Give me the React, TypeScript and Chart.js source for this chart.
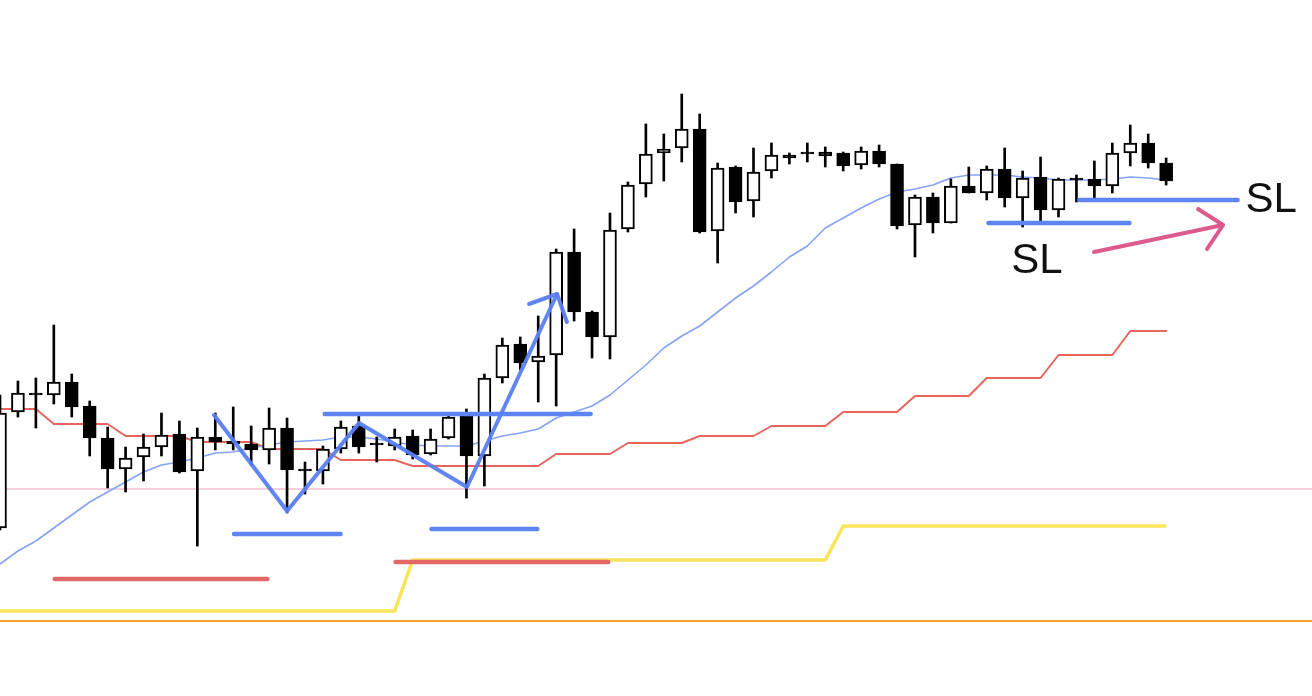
import React, { useEffect, useRef } from "react";
import { Chart, registerables } from "chart.js";

Chart.register(...registerables);

// Candles (price units), one per bar index
const opens = [144.72, 145.88, 146.07, 146.05, 146.18, 145.94, 145.62, 145.31, 145.43, 145.53,
  145.66, 145.29, 145.63, 145.59, 145.56, 145.50, 145.72, 145.31, 145.29, 145.51,
  145.74, 145.57, 145.54, 145.64, 145.46, 145.62, 145.84, 145.44, 146.22, 146.56,
  146.38, 146.45, 147.48, 146.88, 146.63, 147.71, 148.16, 148.47, 148.52, 148.71,
  147.69, 148.33, 147.99, 148.29, 148.45, 148.48, 148.48, 148.47, 148.35, 148.49,
  148.36, 147.75, 148.03, 147.77, 148.14, 148.07, 148.31, 148.02, 148.23, 147.90,
  148.22, 148.21, 148.14, 148.47, 148.57, 148.37];
const highs = [146.05, 146.19, 146.22, 146.75, 146.26, 145.99, 145.73, 145.53, 145.66, 145.87,
  145.79, 145.72, 145.87, 145.93, 145.74, 145.92, 145.82, 145.38, 145.54, 145.79,
  145.84, 145.63, 145.71, 145.70, 145.71, 145.84, 145.91, 146.26, 146.62, 146.63,
  146.84, 147.51, 147.71, 146.89, 147.87, 148.18, 148.76, 148.66, 149.06, 148.86,
  148.37, 148.34, 148.52, 148.57, 148.47, 148.57, 148.53, 148.48, 148.53, 148.55,
  148.36, 148.05, 148.07, 148.21, 148.33, 148.34, 148.52, 148.29, 148.43, 148.22,
  148.25, 148.39, 148.57, 148.75, 148.66, 148.42];
const lows = [144.70, 145.83, 145.72, 145.96, 145.83, 145.44, 145.12, 145.08, 145.19, 145.44,
  145.27, 144.54, 145.50, 145.50, 145.35, 145.36, 144.87, 145.06, 145.16, 145.47,
  145.47, 145.38, 145.50, 145.41, 145.45, 145.61, 145.02, 145.14, 146.17, 146.30,
  145.98, 145.94, 146.79, 146.42, 146.41, 147.68, 148.03, 148.19, 148.38, 147.67,
  147.37, 147.87, 147.83, 148.22, 148.36, 148.38, 148.33, 148.29, 148.31, 148.33,
  147.71, 147.43, 147.67, 147.77, 148.07, 148.00, 147.93, 147.73, 147.78, 147.83,
  147.98, 147.99, 148.07, 148.34, 148.32, 148.15];
const closes = [145.87, 146.07, 146.05, 146.18, 145.93, 145.62, 145.31, 145.42, 145.53, 145.65,
  145.28, 145.63, 145.58, 145.56, 145.50, 145.72, 145.30, 145.29, 145.51, 145.73,
  145.53, 145.55, 145.63, 145.45, 145.61, 145.83, 145.44, 146.22, 146.55, 146.37,
  146.44, 147.48, 146.88, 146.63, 147.70, 148.15, 148.46, 148.51, 148.71, 147.68,
  148.32, 147.98, 148.28, 148.45, 148.42, 148.46, 148.44, 148.34, 148.49, 148.36,
  147.74, 148.03, 147.77, 148.14, 148.07, 148.31, 148.02, 148.22, 147.90, 148.21,
  148.20, 148.14, 148.47, 148.57, 148.37, 148.19];

// Moving average (thin blue)
const maValues = [144.36, 144.49, 144.59, 144.72, 144.85, 144.98, 145.08, 145.18, 145.28, 145.35,
  145.38, 145.42, 145.47, 145.48, 145.52, 145.55, 145.58, 145.59, 145.60, 145.63,
  145.63, 145.61, 145.58, 145.55, 145.54, 145.54, 145.54, 145.59, 145.64, 145.67,
  145.71, 145.82, 145.88, 145.94, 146.05, 146.20, 146.35, 146.52, 146.64, 146.74,
  146.88, 147.02, 147.14, 147.28, 147.43, 147.54, 147.72, 147.82, 147.92, 148.01,
  148.08, 148.11, 148.15, 148.22, 148.25, 148.25, 148.25, 148.23, 148.22, 148.20,
  148.20, 148.20, 148.21, 148.23, 148.22, 148.20];

// Red step line
const redStepValues = [145.91, 145.91, 145.91, 145.76, 145.76, 145.76, 145.76, 145.64, 145.64, 145.64,
  145.64, 145.58, 145.58, 145.58, 145.58, 145.51, 145.51, 145.51, 145.51, 145.40,
  145.40, 145.40, 145.40, 145.34, 145.34, 145.34, 145.34, 145.34, 145.34, 145.34,
  145.34, 145.46, 145.46, 145.46, 145.46, 145.57, 145.57, 145.57, 145.57, 145.64,
  145.64, 145.64, 145.64, 145.74, 145.74, 145.74, 145.74, 145.88, 145.88, 145.88,
  145.88, 146.04, 146.04, 146.04, 146.04, 146.22, 146.22, 146.22, 146.22, 146.45,
  146.45, 146.45, 146.45, 146.69, 146.69, 146.69];

// Yellow step line
const yellowStepValues = [143.89, 143.89, 143.89, 143.89, 143.89, 143.89, 143.89, 143.89, 143.89, 143.89,
  143.89, 143.89, 143.89, 143.89, 143.89, 143.89, 143.89, 143.89, 143.89, 143.89,
  143.89, 143.89, 143.89, 144.40, 144.40, 144.40, 144.40, 144.40, 144.40, 144.40,
  144.40, 144.40, 144.40, 144.40, 144.40, 144.40, 144.40, 144.40, 144.40, 144.40,
  144.40, 144.40, 144.40, 144.40, 144.40, 144.40, 144.40, 144.74, 144.74, 144.74,
  144.74, 144.74, 144.74, 144.74, 144.74, 144.74, 144.74, 144.74, 144.74, 144.74,
  144.74, 144.74, 144.74, 144.74, 144.74, 144.74];

// Horizontal levels
const pinkLevel = 145.11;
const orangeLevel = 143.79;

// Hand-drawn annotations: [barIndex, price]
const blueSegments = [
  [[13.05, 144.66], [18.98, 144.66]],
  [[24.05, 144.71], [29.95, 144.71]],
  [[18.1, 145.86], [32.92, 145.86]],
  [[55.1, 147.77], [62.95, 147.77]],
  [[60.17, 148.0], [68.98, 148.0]],
];
const redSegments = [
  [[3.05, 144.21], [14.9, 144.21]],
  [[22.05, 144.38], [33.9, 144.38]],
];
const zigzag = [[11.93, 145.85], [16.0, 144.89], [20.01, 145.77], [26.03, 145.13], [31.05, 147.06]];
const zigzagHead = [[29.49, 146.96], [31.05, 147.06], [31.6, 146.78]];
const pinkArrow = [[60.98, 147.48], [68.17, 147.75]];
const pinkArrowHead = [[66.78, 147.91], [68.17, 147.75], [67.28, 147.51]];
const textLabels = [
  { text: "SL", x: 56.36, y: 147.27 },
  { text: "SL", x: 69.42, y: 147.88 },
];

const X_MIN = 0;
const X_MAX = 73.13;
const Y_MIN = 143.04;
const Y_MAX = 150.0;

const toPts = (arr: number[][]) => arr.map(([x, y]) => ({ x, y }));

const lineDs = (pts: { x: number; y: number }[], color: string, width: number, extra: any = {}) => ({
  type: "line",
  data: pts,
  borderColor: color,
  backgroundColor: color,
  borderWidth: width,
  pointRadius: 0,
  pointHoverRadius: 0,
  tension: 0,
  fill: false,
  borderCapStyle: "round",
  borderJoinStyle: "round",
  ...extra,
});

export default function App() {
  const ref = useRef<HTMLCanvasElement | null>(null);

  useEffect(() => {
    const canvas = ref.current;
    if (!canvas) return;
    const idx = opens.map((_, i) => i);

    const bodyColors = idx.map((i) => (closes[i] > opens[i] ? "#ffffff" : "#000000"));

    const labelPlugin = {
      id: "slLabels",
      afterDatasetsDraw(chart: any) {
        const ctx = chart.ctx;
        const xs = chart.scales.x;
        const ys = chart.scales.y;
        ctx.save();
        ctx.fillStyle = "#111111";
        ctx.font = '42px "Liberation Sans", Arial, Helvetica, sans-serif';
        ctx.textBaseline = "alphabetic";
        ctx.textAlign = "left";
        textLabels.forEach((l) => {
          ctx.fillText(l.text, xs.getPixelForValue(l.x), ys.getPixelForValue(l.y));
        });
        ctx.restore();
      },
    };

    const datasets: any[] = [
      // top-most first
      lineDs(toPts(pinkArrow), "#dc5a8c", 4),
      lineDs(toPts(pinkArrowHead), "#dc5a8c", 4),
      lineDs(toPts(zigzag), "rgba(88,126,242,0.95)", 4),
      lineDs(toPts(zigzagHead), "rgba(88,126,242,0.95)", 4),
      ...blueSegments.map((s) => lineDs(toPts(s), "#5c84f2", 4.5)),
      ...redSegments.map((s) => lineDs(toPts(s), "#e26868", 4.5)),
      {
        type: "bar",
        data: idx.map((i) => ({ x: i, y: [opens[i], closes[i]] })),
        backgroundColor: bodyColors,
        borderColor: "#000000",
        borderWidth: 2,
        borderSkipped: false,
        barThickness: 13,
        grouped: false,
      },
      {
        type: "bar",
        data: idx.map((i) => ({ x: i, y: [lows[i], highs[i]] })),
        backgroundColor: "#000000",
        borderWidth: 0,
        barThickness: 2,
        grouped: false,
      },
      lineDs(idx.map((i) => ({ x: i, y: maValues[i] })), "#85a3f6", 1.6),
      lineDs(idx.map((i) => ({ x: i, y: redStepValues[i] })), "#e8655d", 2),
      lineDs(idx.map((i) => ({ x: i, y: yellowStepValues[i] })), "#f9e45a", 3.6, { borderCapStyle: "butt" }),
      lineDs([{ x: -2, y: pinkLevel }, { x: 80, y: pinkLevel }], "#f1bed1", 1.6, { borderCapStyle: "butt" }),
      lineDs([{ x: -2, y: orangeLevel }, { x: 80, y: orangeLevel }], "#f0a233", 2, { borderCapStyle: "butt" }),
    ];

    const chart = new Chart(canvas, {
      type: "bar",
      data: { datasets },
      options: {
        animation: false,
        responsive: false,
        maintainAspectRatio: false,
        events: [],
        layout: { padding: 0 },
        plugins: { legend: { display: false }, tooltip: { enabled: false } },
        scales: {
          x: { type: "linear", min: X_MIN, max: X_MAX, offset: false, display: false, grid: { display: false } },
          y: { type: "linear", min: Y_MIN, max: Y_MAX, display: false, grid: { display: false } },
        },
      } as any,
      plugins: [labelPlugin],
    } as any);

    return () => chart.destroy();
  }, []);

  return (
    <div style={{ position: "fixed", left: 0, top: 0, width: 1312, height: 696, background: "#ffffff" }}>
      <canvas ref={ref} width={1312} height={696} style={{ display: "block", width: 1312, height: 696 }} />
    </div>
  );
}
